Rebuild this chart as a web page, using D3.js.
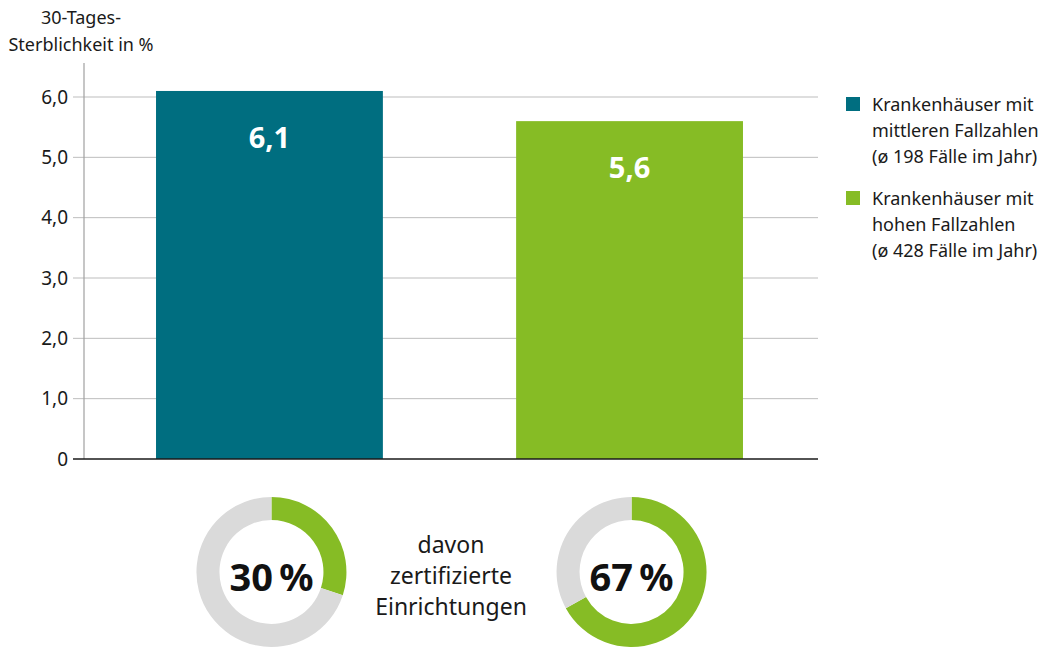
<!DOCTYPE html>
<html><head><meta charset="utf-8">
<script src="https://cdn.jsdelivr.net/npm/d3@7"></script>
<style>body{margin:0;background:#fff}svg{display:block;font-family:"Noto Sans",sans-serif}</style>
</head><body>
<script>
const categories = ["Krankenhäuser mit mittleren Fallzahlen (ø 198 Fälle im Jahr)", "Krankenhäuser mit hohen Fallzahlen (ø 428 Fälle im Jahr)"];
const values = [6.1, 5.6];
const valueLabels = ["6,1", "5,6"];
const certified = [30, 67];
const certifiedLabels = ["30\u2009%", "67\u2009%"];
const yTicks = [0, 1, 2, 3, 4, 5, 6];
const yTickLabels = ["0", "1,0", "2,0", "3,0", "4,0", "5,0", "6,0"];
const legendLines = [["Krankenhäuser mit", "mittleren Fallzahlen", "(ø 198 Fälle im Jahr)"], ["Krankenhäuser mit", "hohen Fallzahlen", "(ø 428 Fälle im Jahr)"]];
const colors = ["#006e80", "#86bc25"];

const W = 1054, H = 648;
const svg = d3.select("body").append("svg").attr("width", W).attr("height", H);

const y = d3.scaleLinear().domain([0, 6]).range([459, 97]);
const x = d3.scaleBand().domain(categories).range([84, 815]).paddingInner(0.37).paddingOuter(0.2);

// gridlines
svg.append("g").selectAll("line").data(yTicks.filter(d => d > 0)).join("line")
  .attr("x1", 73).attr("x2", 818).attr("y1", d => y(d)).attr("y2", d => y(d))
  .attr("stroke", "#bdbdbd").attr("stroke-width", 1);
// vertical axis line
svg.append("line").attr("x1", 84).attr("x2", 84).attr("y1", 63).attr("y2", 459).attr("stroke", "#a0a0a0").attr("stroke-width", 1.2);
// tick labels
svg.append("g").selectAll("text").data(yTicks).join("text")
  .attr("x", 68).attr("y", d => y(d)).attr("dy", "0.35em").attr("text-anchor", "end")
  .attr("font-size", 19).attr("fill", "#1a1a1a").text((d, i) => yTickLabels[i]);

// bars
svg.append("g").selectAll("rect").data(values).join("rect")
  .attr("x", (d, i) => x(categories[i])).attr("width", x.bandwidth())
  .attr("y", d => y(d)).attr("height", d => y(0) - y(d)).attr("fill", (d, i) => colors[i]);
svg.append("g").selectAll("text").data(values).join("text")
  .attr("x", (d, i) => x(categories[i]) + x.bandwidth() / 2).attr("y", d => y(d) + 57)
  .attr("text-anchor", "middle").attr("font-size", 29).attr("font-weight", "bold").attr("fill", "#fff")
  .text((d, i) => valueLabels[i]);

// baseline
svg.append("line").attr("x1", 73).attr("x2", 818).attr("y1", y(0)).attr("y2", y(0)).attr("stroke", "#1a1a1a").attr("stroke-width", 1.5);

// title
const t = svg.append("text").attr("text-anchor", "middle").attr("font-size", 18).attr("fill", "#1a1a1a");
t.append("tspan").attr("x", 81).attr("y", 24).text("30-Tages-");
t.append("tspan").attr("x", 81).attr("y", 51).text("Sterblichkeit in %");

// legend
const lg = svg.append("g").selectAll("g").data(legendLines).join("g")
  .attr("transform", (d, i) => `translate(846,${97 + i * 94})`);
lg.append("rect").attr("width", 14).attr("height", 14).attr("fill", (d, i) => colors[i]);
lg.append("text").attr("font-size", 18).attr("fill", "#1a1a1a")
  .selectAll("tspan").data(d => d).join("tspan").attr("x", 26).attr("y", (d, i) => 14 + i * 26).text(d => d);

// donuts
const arc = d3.arc().innerRadius(52).outerRadius(75);
const pie = d3.pie().sort(null).value(d => d);
const donutX = d => x(categories[d]) + x.bandwidth() / 2 + 2;
certified.forEach((p, i) => {
  const g = svg.append("g").attr("transform", `translate(${donutX(i)},572)`);
  g.selectAll("path").data(pie([p, 100 - p])).join("path").attr("d", arc)
    .attr("fill", (d, j) => j === 0 ? colors[1] : "#dadada");
  g.append("text").attr("text-anchor", "middle").attr("y", 19).attr("font-size", 38)
    .attr("font-weight", "bold").attr("fill", "#111").text(certifiedLabels[i]);
});
const mid = svg.append("text").attr("text-anchor", "middle").attr("font-size", 23).attr("fill", "#1a1a1a");
["davon", "zertifizierte", "Einrichtungen"].forEach((s, i) =>
  mid.append("tspan").attr("x", 451).attr("y", 553 + i * 31).text(s));
</script>
</body></html>
